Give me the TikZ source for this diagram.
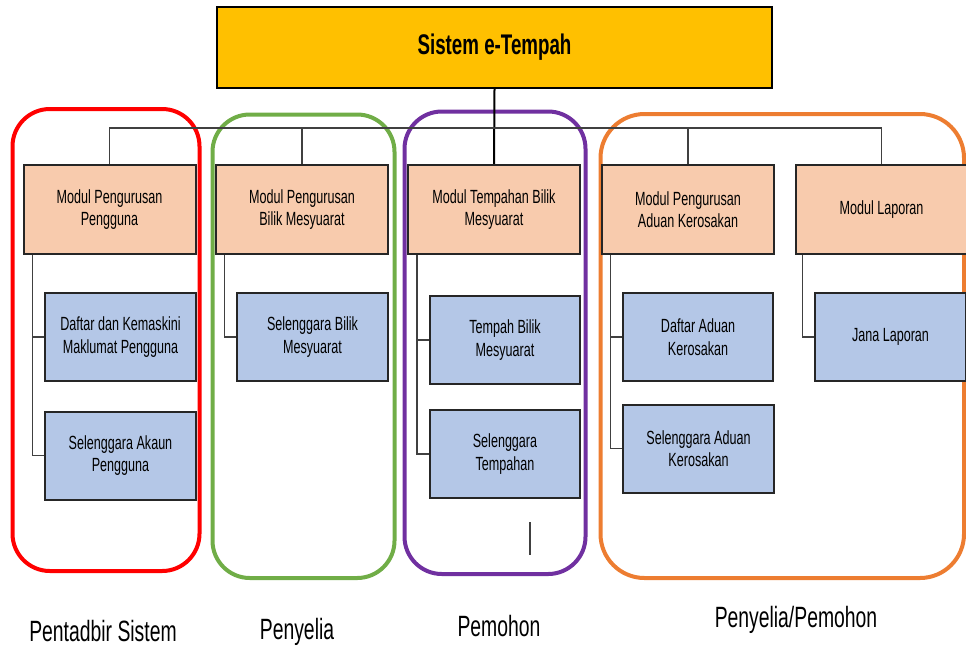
\documentclass[tikz,border=0pt]{standalone}
\usepackage{fontspec}
\setmainfont{Liberation Sans}[FakeStretch=0.66]
\usetikzlibrary{positioning}

\definecolor{titlefill}{HTML}{FFC000}
\definecolor{modfill}{HTML}{F8CBAD}
\definecolor{subfill}{HTML}{B4C7E7}
\definecolor{grpred}{HTML}{FF0000}
\definecolor{grpgreen}{HTML}{70AD47}
\definecolor{grppurple}{HTML}{7030A0}
\definecolor{grporange}{HTML}{ED7D31}

\begin{document}
\begin{tikzpicture}[x=0.75pt, y=-0.75pt,
    titlebox/.style={draw=black, line width=1.5pt, fill=titlefill, minimum width=416pt, minimum height=61pt, inner sep=0pt, font=\fontsize{21.3}{24}\selectfont\bfseries},
    modbox/.style={draw=black!85, line width=1.5pt, fill=modfill, minimum width=129pt, minimum height=67pt, inner sep=0pt, align=center, font=\fontsize{14.3}{16.8}\selectfont},
    subbox/.style={modbox, fill=subfill, minimum width=113pt, minimum height=66pt},
    grp/.style={line width=3pt, rounded corners=28pt},
    conn/.style={draw=black!75, line width=0.8pt},
    lbl/.style={anchor=base, font=\fontsize{22}{26}\selectfont}]
    \useasboundingbox (0,0) rectangle (966,647);

    % user groups
    \draw[grp, draw=grpred] (12.5,109) rectangle (199.5,571);
    \draw[grp, draw=grpgreen] (212.5,114.5) rectangle (394.5,578);
    \draw[grp, draw=grppurple] (404.5,111.5) rectangle (585.5,574);
    \draw[grp, draw=grporange, rounded corners=33pt] (600.5,114) rectangle (964,578);

    % system and modules
    \node[titlebox] (sys) at (494.5,47.5) {Sistem e-Tempah};
    \node[modbox] (m1) at (109.5,209.5) {Modul Pengurusan\\Pengguna};
    \node[modbox] (m2) at (302,209.5) {Modul Pengurusan\\Bilik Mesyuarat};
    \node[modbox] (m3) at (494,209.5) {Modul Tempahan Bilik\\Mesyuarat};
    \node[modbox] (m4) at (688,209.5) {Modul Pengurusan\\Aduan Kerosakan};
    \node[modbox] (m5) at (881.5,209.5) {Modul Laporan};

    % sub functions
    \node[subbox] (l1a) at (120.5,337) {Daftar dan Kemaskini\\Maklumat Pengguna};
    \node[subbox] (l1b) at (120.5,455.5) {Selenggara Akaun\\Pengguna};
    \node[subbox] (l2a) at (312.5,337) {Selenggara Bilik\\Mesyuarat};
    \node[subbox] (l3a) at (505,340) {Tempah Bilik\\Mesyuarat};
    \node[subbox] (l3b) at (505,454) {Selenggara\\Tempahan};
    \node[subbox] (l4a) at (698,337) {Daftar Aduan\\Kerosakan};
    \node[subbox] (l4b) at (698.5,448.5) {Selenggara Aduan\\Kerosakan};
    \node[subbox] (l5a) at (890.5,337) {Jana Laporan};

    % tree lines
    \coordinate (bus) at (494,128);
    \draw[black, line width=1.5pt] (sys.south) -- (m3.north);
    \draw[conn] (m1.north) |- (bus) -| (m5.north);
    \draw[conn] (m2.north) -- (m2.north |- bus);
    \draw[conn] (m4.north) -- (m4.north |- bus);

    \draw[conn] ([xshift=7.5pt]m1.south west) coordinate (t1) |- (l1b.west) (t1 |- l1a.west) -- (l1a.west);
    \draw[conn] ([xshift=7pt]m2.south west) |- (l2a.west);
    \draw[conn] ([xshift=7.5pt]m3.south west) coordinate (t3) |- (l3b.west) (t3 |- l3a.west) -- (l3a.west);
    \draw[conn] ([xshift=7pt]m4.south west) coordinate (t4) |- (l4b.west) (t4 |- l4a.west) -- (l4a.west);
    \draw[conn] ([xshift=6pt]m5.south west) |- (l5a.west);
    \draw[conn] (530,522) -- (530,555);

    % roles
    \node[lbl] (r1) at (103,641) {Pentadbir Sistem};
    \node[lbl] (r2) at (297,639) {Penyelia};
    \node[lbl] (r3) at (499,636) {Pemohon};
    \node[lbl] (r4) at (796,627) {Penyelia/Pemohon};
\end{tikzpicture}
\end{document}
